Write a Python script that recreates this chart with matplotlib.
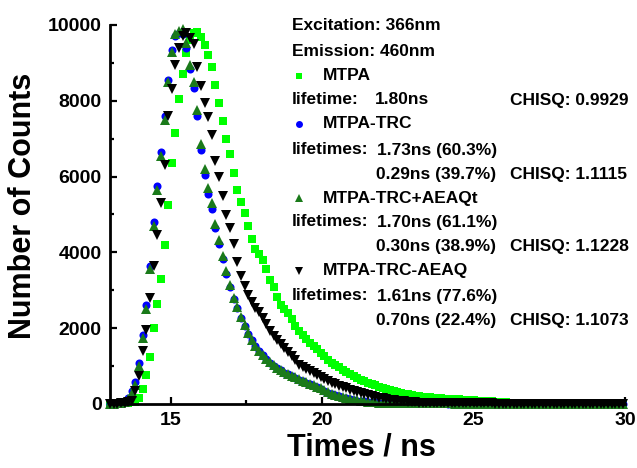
# ---------- Fluorescence decay curves (TCSPC) ---------- #
import numpy as np
import matplotlib
matplotlib.use("Agg")
import matplotlib.pyplot as plt
from matplotlib.ticker import MultipleLocator
from matplotlib.lines import Line2D

# ---------- Data ---------- #
# channel calibration of the time axis (ns)
T0 = 13.0
DT = 0.12

# counts per channel
mtpa = [5, 5, 8, 10, 15, 25, 40, 60, 170, 400,
        760, 1250, 2000, 2650, 3300, 4200, 5250, 6350, 7150, 8050,
        8700, 9250, 9600, 9780, 9810, 9680, 9480, 9200, 8880, 8420,
        7950, 7480, 7000, 6600, 6100, 5640, 5330, 5030, 4700, 4350,
        4100, 3950, 3800, 3560, 3280, 3100, 2820, 2620, 2500, 2390,
        2230, 2070, 1930, 1820, 1720, 1620, 1530, 1440, 1350, 1260,
        1170, 1090, 1030, 970, 910, 850, 795, 745, 695, 645,
        600, 560, 525, 490, 455, 425, 395, 365, 340, 315,
        290, 272, 255, 238, 222, 208, 195, 182, 172, 165,
        158, 150, 144, 138, 132, 126, 120, 114, 108, 102,
        97, 92, 88, 84, 80, 72, 64, 56, 48, 42,
        38, 35, 33, 31, 30, 28, 27, 26, 25, 24,
        24, 23, 22, 22, 21, 20, 20, 19, 19, 18,
        18, 17, 17, 16, 16, 16, 15, 15, 15, 14,
        14, 14]

mtpa_trc = [12, 15, 22, 40, 70, 160, 330, 580, 1080, 1830,
            2600, 3650, 4800, 5750, 6650, 7600, 8550, 9350, 9700, 9800,
            9750, 9400, 8850, 8350, 7600, 6700, 6050, 5550, 5150, 4650,
            4220, 3820, 3440, 3090, 2760, 2520, 2270, 2050, 1850, 1680,
            1520, 1390, 1280, 1180, 1085, 1005, 945, 885, 830, 780,
            730, 685, 645, 605, 565, 525, 485, 445, 400, 350,
            300, 258, 228, 198, 170, 146, 125, 107, 92, 78,
            66, 56, 48, 42, 37, 33, 30, 28, 26, 24,
            23, 22, 21, 20, 19, 18, 17, 17, 16, 15,
            15, 14, 14, 13, 13, 12, 12, 12, 11, 11,
            11, 10, 10, 10, 9, 9, 9, 9, 8, 8,
            8, 8, 8, 7, 7, 7, 7, 7, 7, 6,
            6, 6, 6, 6, 6, 6, 5, 5, 5, 5,
            5, 5, 5, 5, 4, 4, 4, 4, 4, 4,
            4, 4]

mtpa_trc_aeaqt = [10, 12, 18, 30, 50, 130, 280, 500, 1000, 1750,
                  2500, 3550, 4700, 5650, 6550, 7500, 8500, 9300, 9750, 9850,
                  9900, 9520, 8950, 8500, 7750, 6850, 6200, 5700, 5300, 4750,
                  4330, 3900, 3520, 3150, 2800, 2560, 2300, 2080, 1870, 1700,
                  1540, 1400, 1300, 1200, 1100, 1020, 960, 900, 845, 795,
                  745, 700, 660, 620, 580, 540, 500, 460, 410, 360,
                  310, 265, 235, 205, 175, 150, 128, 110, 95, 80,
                  68, 58, 50, 44, 38, 34, 31, 29, 27, 25,
                  24, 23, 22, 21, 20, 19, 18, 18, 17, 16,
                  16, 15, 15, 14, 14, 13, 13, 13, 12, 12,
                  12, 11, 11, 11, 10, 10, 10, 10, 9, 9,
                  9, 9, 9, 8, 8, 8, 8, 8, 8, 7,
                  7, 7, 7, 7, 7, 7, 6, 6, 6, 6,
                  6, 6, 6, 6, 5, 5, 5, 5, 5, 5,
                  5, 5]

mtpa_trc_aeaq = [8, 10, 12, 18, 25, 40, 70, 330, 740, 1400,
                 1950, 2800, 3650, 4450, 5300, 6300, 7600, 8300, 8950, 9400,
                 9700, 9780, 9650, 9500, 8900, 8380, 7950, 7560, 7100, 6400,
                 5980, 5500, 4980, 4650, 4220, 3750, 3370, 3120, 2870, 2690,
                 2540, 2420, 2260, 2100, 1930, 1800, 1680, 1570, 1470, 1380,
                 1270, 1150, 1040, 980, 920, 860, 810, 760, 710, 660,
                 610, 560, 520, 480, 445, 410, 375, 345, 315, 285,
                 258, 235, 212, 190, 170, 150, 133, 118, 104, 90,
                 78, 68, 58, 50, 44, 38, 33, 30, 28, 26,
                 25, 24, 23, 22, 21, 20, 19, 18, 18, 17,
                 16, 16, 15, 15, 14, 14, 13, 13, 13, 12,
                 12, 12, 11, 11, 11, 10, 10, 10, 10, 9,
                 9, 9, 9, 9, 8, 8, 8, 8, 8, 8,
                 7, 7, 7, 7, 7, 7, 6, 6, 6, 6,
                 6, 6]

series_names = ["MTPA", "MTPA-TRC", "MTPA-TRC+AEAQt", "MTPA-TRC-AEAQ"]
series_data = [mtpa, mtpa_trc, mtpa_trc_aeaqt, mtpa_trc_aeaq]

x_ticks = [15, 20, 25, 30]
y_ticks = [0, 2000, 4000, 6000, 8000, 10000]

# ---------- Styles ---------- #
colors = ["#00FF00", "#0000FF", "#1A7A1A", "#000000"]
markers = ["s", "o", "^", "v"]
sizes = [5.8, 5.8, 7.0, 7.0]
key_sizes = [5.0, 5.0, 5.5, 5.5]

plt.rcParams["font.family"] = ["Liberation Sans", "DejaVu Sans"]
plt.rcParams["font.weight"] = "bold"

W, H = 637, 468
fig = plt.figure(figsize=(W / 100, H / 100), dpi=100)
ax = fig.add_axes([110 / W, 1 - 404 / H, 515 / W, 379 / H])

# ---------- Plot decays ---------- #
for counts, c, m, s in zip(series_data, colors, markers, sizes):
    t = T0 + DT * np.arange(len(counts))
    ax.plot(t, counts, ls="none", marker=m, ms=s, color=c, mec=c, mew=0,
            clip_on=False, zorder=2)

ax.set_xlim(13, 30)
ax.set_ylim(0, 10000)
ax.set_xticks(x_ticks)
ax.set_yticks(y_ticks)
ax.xaxis.set_minor_locator(MultipleLocator(2.5))
ax.yaxis.set_minor_locator(MultipleLocator(1000))
for side in ["top", "right"]:
    ax.spines[side].set_visible(False)
for side in ["left", "bottom"]:
    ax.spines[side].set_linewidth(2.0)
    ax.spines[side].set_zorder(3)
ax.tick_params(which="major", direction="in", length=5, width=1.6,
               labelsize=14, pad=6)
ax.tick_params(which="minor", direction="in", length=3, width=1.6)
for lab in ax.get_xticklabels() + ax.get_yticklabels():
    lab.set_fontweight("bold")

ax.set_xlabel("Times / ns", fontsize=22, fontweight="bold", va="center")
ax.set_ylabel("Number of Counts", fontsize=22, fontweight="bold", va="center")
ax.xaxis.set_label_coords((361 - 110) / 515, (404 - 448) / 379)
ax.yaxis.set_label_coords((23 - 110) / 515, (404 - 206) / 379)

# ---------- Annotation block ---------- #
fs = 12.5
rows = [
    (25, [(292, "Excitation: 366nm")]),
    (51, [(292, "Emission: 460nm")]),
    (76, [(323, series_names[0])]),
    (100, [(292, "lifetime:"), (375, "1.80ns"), (510, "CHISQ: 0.9929")]),
    (124, [(323, series_names[1])]),
    (150, [(292, "lifetimes:"), (377, "1.73ns (60.3%)")]),
    (174, [(376, "0.29ns (39.7%)"), (510, "CHISQ: 1.1115")]),
    (198, [(323, series_names[2])]),
    (222, [(292, "lifetimes:"), (377, "1.70ns (61.1%)")]),
    (247, [(376, "0.30ns (38.9%)"), (510, "CHISQ: 1.1228")]),
    (271, [(323, series_names[3])]),
    (296, [(292, "lifetimes:"), (377, "1.61ns (77.6%)")]),
    (320, [(376, "0.70ns (22.4%)"), (510, "CHISQ: 1.1073")]),
]
for y, parts in rows:
    for x, s in parts:
        fig.text(x / W, 1 - y / H, s, fontsize=fs, fontweight="bold",
                 ha="left", va="center")

for y, c, m, s in zip([76, 124, 198, 271], colors, markers, key_sizes):
    fig.add_artist(Line2D([299 / W], [1 - y / H], ls="none", marker=m,
                          ms=s, color=c, mec=c, mew=0,
                          transform=fig.transFigure))

fig.savefig("out.png", dpi=100)
